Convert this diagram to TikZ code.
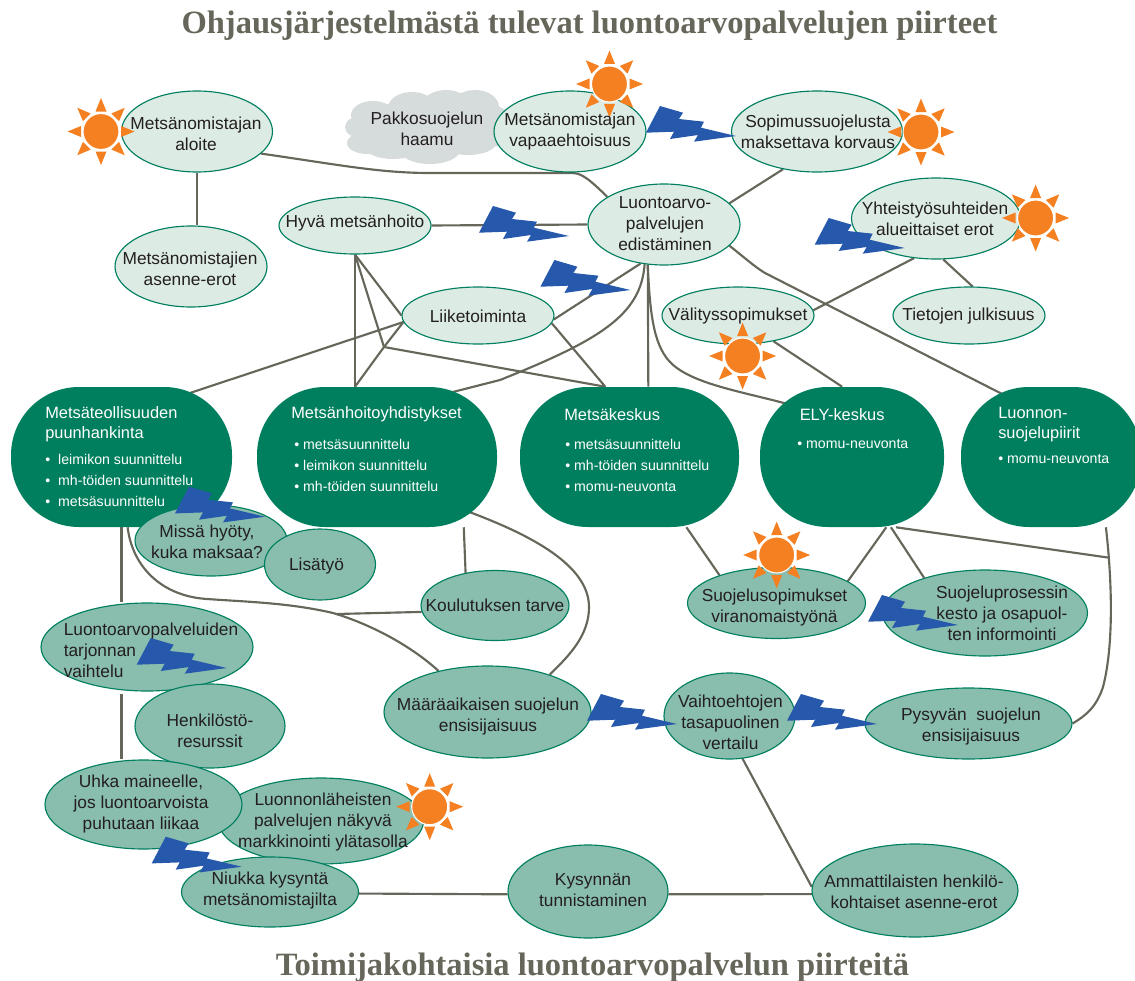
\documentclass[tikz,border=0pt]{standalone}
\usepackage{fontspec}
\setmainfont{Liberation Sans}
\newfontfamily\titlefont{Liberation Serif}
\usetikzlibrary{shapes.geometric}
\pgfdeclarelayer{bg}
\pgfsetlayers{bg,main}
\definecolor{linec}{HTML}{66665A}
\definecolor{edgec}{HTML}{007F5F}
\definecolor{lightc}{HTML}{DCEBE4}
\definecolor{midc}{HTML}{89BDAE}
\definecolor{darkc}{HTML}{007F5F}
\definecolor{sunc}{HTML}{F58022}
\definecolor{boltc}{HTML}{2659AB}
\definecolor{cloudc}{HTML}{D6DBDB}
\definecolor{textc}{HTML}{231F20}
\tikzset{
  ell/.style={ellipse,draw=edgec,line width=0.85pt,inner sep=0pt},
  lightell/.style={ell,fill=lightc},
  midell/.style={ell,fill=midc},
  lab/.style={text=textc,align=center,inner sep=0pt,font=\fontsize{13}{15.75}\selectfont},
  leftlab/.style={lab,align=left},
  gbox/.style={rectangle,rounded corners=51pt,fill=darkc,draw=none,inner sep=0pt},
  ghead/.style={text=white,align=left,anchor=west,inner sep=0pt,font=\fontsize{12.3}{15}\selectfont},
  gitem/.style={text=white,align=left,anchor=west,inner sep=0pt,font=\fontsize{10.6}{15.75}\selectfont},
  conn/.style={draw=linec,line width=1.6pt},
  ttl/.style={text=linec,inner sep=0pt,font=\titlefont\bfseries\fontsize{24.4}{28}\selectfont},
}
% name, style, cx, cy, w, h
\newcommand{\El}[6]{\node[#2,minimum width=#5*0.75pt,minimum height=#6*0.75pt] (#1) at (#3,#4) {};}
% name, x, y, style, text
\newcommand{\Tx}[5]{\node[#4] (#1) at (#2,#3) {#5};}
\newcommand{\Sunny}[2]{\begin{scope}[shift={(#1,#2)}]
  \foreach \a in {0,45,...,315}{\fill[sunc,rotate=\a] (33.5,0) -- (20,5.5) -- (20,-5.5) -- cycle;}
  \filldraw[fill=sunc,draw=white,line width=0.8pt] (0,0) circle (18);
\end{scope}}
\newcommand{\Bolt}[2]{\fill[boltc,shift={(#1,#2)}] (-76,-30) -- (-53,-23.3) -- (-57,-17) -- (-32,-14.3) -- (-35,-8.3) -- (0,0) -- (-42,5.7) -- (-38,-1) -- (-66,3) -- (-62,-4.3) -- (-90,-3.3) -- cycle;}
\begin{document}
\begin{tikzpicture}[x=0.75pt,y=-0.75pt]
\useasboundingbox (0,0) rectangle (1135,981);
% cloud
\fill[cloudc] (428,127) ellipse (70 and 28)
  (373,115) ellipse (22 and 14) (412,108) ellipse (24 and 16) (446,106) ellipse (24 and 16)
  (475,107) ellipse (24 and 17) (490,120) ellipse (20 and 15) (361,127) ellipse (16 and 11)
  (367,143) ellipse (20 and 11) (393,147) ellipse (28 and 12) (430,150) ellipse (30 and 14)
  (468,143) ellipse (28 and 12) (490,135) ellipse (20 and 12);
% dark boxes
\node[gbox,minimum width=221*0.75pt,minimum height=140*0.75pt] (mt) at (121.5,457) {};
\node[gbox,minimum width=240*0.75pt,minimum height=140*0.75pt] (mh) at (377,457) {};
\node[gbox,minimum width=219*0.75pt,minimum height=140*0.75pt] (mk) at (629.5,457) {};
\node[gbox,minimum width=184*0.75pt,minimum height=140*0.75pt] (ely) at (852,457) {};
\node[gbox,minimum width=180*0.75pt,minimum height=140*0.75pt] (ls) at (1051,457) {};
% light ellipses
\El{aloite}{lightell}{197}{131.5}{151}{81}
\El{asenne}{lightell}{191}{266.5}{152}{81}
\El{hyva}{lightell}{355}{225.5}{152}{57}
\El{liike}{lightell}{478}{315.5}{152}{57}
\El{vapaa}{lightell}{570}{131.5}{152}{81}
\El{sopimus}{lightell}{817}{131.5}{171}{81}
\El{luonto}{lightell}{664}{224.5}{152}{81}
\El{yhteis}{lightell}{936}{218.5}{169}{81}
\El{valitys}{lightell}{738}{315.5}{152}{57}
\El{tietojen}{lightell}{969}{315.5}{152}{57}
% mid ellipses
\El{missa}{midell}{211}{540.5}{152}{71}
\El{lisatyo}{midell}{320}{564.5}{111}{71}
\El{koul}{midell}{495}{605.5}{148}{70}
\El{lp}{midell}{147}{647}{212}{88}
\El{henk}{midell}{210}{726}{150}{84}
\El{luonn}{midell}{321}{821}{205}{86}
\El{uhka}{midell}{143.5}{804.5}{197}{89}
\El{niukka}{midell}{270}{892}{177}{70}
\El{maara}{midell}{487.5}{712}{207}{92}
\El{suo}{midell}{776.5}{603}{178}{71}
\El{supr}{midell}{985}{613}{205}{86}
\El{vaihto}{midell}{729.5}{716}{131}{86}
\El{pys}{midell}{968.5}{723.5}{207}{71}
\El{kys}{midell}{588}{891.5}{160}{93}
\El{amm}{midell}{915}{890.5}{206}{93}
% connector end points
\coordinate (J) at (384,347);
\coordinate (mhtop) at (mh.north -| hyva.south);
\coordinate (mtA) at (178,397);
\coordinate (mhA) at (445,394);
\coordinate (elyA) at (795,406);
\coordinate (lsA) at (1006,396);
\coordinate (mhB) at (462,509);
\coordinate (kb) at (336.7,614);
\coordinate (jr) at (1109,557.7);
\begin{pgfonlayer}{bg}
\draw[conn] (aloite.south) -- (aloite.south |- asenne.north);
\draw[conn] (aloite.-19) .. controls (340,165) and (380,173) .. (430,173) -- (572,173) .. controls (582,173) and (590,180) .. (luonto.154);
\draw[conn] (sopimus.228) -- (luonto.18);
\draw[conn] (hyva.east) -- (luonto.west);
\draw[conn] (hyva.south) -- (mhtop);
\draw[conn] (hyva.south) -- (liike.west);
\draw[conn] (hyva.south) -- (J);
\draw[conn] (J) -- (liike.185);
\draw[conn] (J) -- (mhtop);
\draw[conn] (J) -- (mk.109);
\draw[conn] (liike.185) -- (mtA);
\draw[conn] (liike.-6) -- (mk.109);
\draw[conn] (luonto.239) -- (liike.-3);
\draw[conn] (luonto.244) .. controls (641,315) and (600,340) .. (500,380) -- (mhA);
\draw[conn] (luonto.248) -- (mk.75);
\draw[conn] (luonto.248) .. controls (650,320) and (655,348) .. (672,364) .. controls (695,385) and (745,392) .. (elyA);
\draw[conn] (luonto.-18) .. controls (745,258) and (755,267) .. (765,273) -- (lsA);
\draw[conn] (yhteis.241) -- (valitys.4);
\draw[conn] (yhteis.-80) -- (tietojen.83);
\draw[conn] (valitys.-36) -- (ely.98);
\draw[conn] (mt.south) -- (mt.south |- lp.north);
\draw[conn] (mt.south |- lp.south) ++(0,2) -- (mt.south |- uhka.north);
\draw[conn] (mt.-85) .. controls (132,565) and (160,596) .. (207,599) .. controls (250,602) and (290,603) .. (333,613) .. controls (370,624) and (410,645) .. (maara.140);
\draw[conn] (koul.185) -- (kb);
\draw[conn] (mh.-39) -- (koul.132);
\draw[conn] (mhB) -- (472,513) .. controls (530,535) and (589,565) .. (589,607) .. controls (589,635) and (570,655) .. (maara.31);
\draw[conn] (mk.-51) -- (suo.154);
\draw[conn] (ely.-64) -- (suo.17);
\draw[conn] (ely.-61) -- (supr.150);
\draw[conn] (ely.-58) -- (jr);
\draw[conn] (ls.-52) .. controls (1112,580) and (1114,645) .. (1103,687) .. controls (1096,708) and (1085,716) .. (pys.east);
\draw[conn] (vaihto.-73) -- (amm.178);
\draw[conn] (niukka.-1) -- (kys.182);
\draw[conn] (kys.-2) -- (amm.182);
\end{pgfonlayer}
% suns
\Sunny{101}{131.5}
\Sunny{609.5}{84}
\Sunny{921}{132}
\Sunny{1035.6}{218}
\Sunny{742.6}{356}
\Sunny{776.7}{555}
\Sunny{429.7}{806.7}
% bolts
\Bolt{736}{136}
\Bolt{569}{236}
\Bolt{630.4}{290}
\Bolt{904.7}{248}
\Bolt{265}{516.7}
\Bolt{226.7}{668}
\Bolt{241.7}{866.7}
\Bolt{958}{625}
\Bolt{677}{724}
\Bolt{877}{724}
% texts
\Tx{t1}{196}{133.5}{lab}{Metsänomistajan\\aloite}
\Tx{t2}{190}{268.5}{lab}{Metsänomistajien\\asenne-erot}
\Tx{t3}{427}{128.5}{lab}{Pakkosuojelun\\haamu}
\Tx{t4}{355}{223.5}{lab}{Hyvä metsänhoito}
\Tx{t5}{478}{316}{lab}{Liiketoiminta}
\Tx{t6}{570}{131.5}{lab}{Metsänomistajan\\vapaaehtoisuus}
\Tx{t7}{818}{131.5}{lab}{Sopimussuojelusta\\maksettava korvaus}
\Tx{t8}{665}{224}{lab}{Luontoarvo-\\palvelujen\\edistäminen}
\Tx{t9}{935}{218.5}{lab}{Yhteistyösuhteiden\\alueittaiset erot}
\Tx{t10}{738}{316}{lab}{Välityssopimukset}
\Tx{t11}{968.5}{316}{lab}{Tietojen julkisuus}
\Tx{t12}{207}{541.5}{lab}{Missä hyöty,\\kuka maksaa?}
\Tx{t13}{316.5}{566}{lab}{Lisätyö}
\Tx{t14}{495}{605}{lab}{Koulutuksen tarve}
\Tx{t15}{151}{650}{leftlab}{Luontoarvopalveluiden\\tarjonnan\\vaihtelu}
\Tx{t16}{210}{730.5}{lab}{Henkilöstö-\\resurssit}
\Tx{t17}{141}{804}{lab}{Uhka maineelle,\\jos luontoarvoista\\puhutaan liikaa}
\Tx{t18}{323}{822}{lab}{Luonnonläheisten\\palvelujen näkyvä\\markkinointi ylätasolla}
\Tx{t19}{270}{890.5}{lab}{Niukka kysyntä\\metsänomistajilta}
\Tx{t20}{488}{717}{lab}{Määräaikaisen suojelun\\ensisijaisuus}
\Tx{t21}{774.5}{608}{lab}{Suojelusopimukset\\viranomaistyönä}
\Tx{t22}{1002}{613}{lab}{Suojeluprosessin\\kesto ja osapuol-\\ten informointi}
\Tx{t23}{730.5}{722}{lab}{Vaihtoehtojen\\tasapuolinen\\vertailu}
\Tx{t24}{971}{727}{lab}{Pysyvän\ \ suojelun\\ensisijaisuus}
\Tx{t25}{593}{890.5}{lab}{Kysynnän\\tunnistaminen}
\Tx{t26}{914}{892}{lab}{Ammattilaisten henkilö-\\kohtaiset asenne-erot}
% dark box texts
\node[ghead] (h1) at (45,424.5) {Metsäteollisuuden\\puunhankinta};
\node[gitem] (b1) at (45,480) {•\hspace{6pt}leimikon suunnittelu\\•\hspace{6pt}mh-töiden suunnittelu\\•\hspace{6pt}metsäsuunnittelu};
\node[ghead] (h2) at (291,414.5) {Metsänhoitoyhdistykset};
\node[gitem] (b2) at (294,465) {•\hspace{3pt}metsäsuunnittelu\\•\hspace{3pt}leimikon suunnittelu\\•\hspace{3pt}mh-töiden suunnittelu};
\node[ghead] (h3) at (564,414.5) {Metsäkeskus};
\node[gitem] (b3) at (565,465) {•\hspace{3pt}metsäsuunnittelu\\•\hspace{3pt}mh-töiden suunnittelu\\•\hspace{3pt}momu-neuvonta};
\node[ghead] (h4) at (799.5,414.5) {ELY-keskus};
\node[gitem] (b4) at (797,444) {•\hspace{3pt}momu-neuvonta};
\node[ghead] (h5) at (998,424.5) {Luonnon-\\suojelupiirit};
\node[gitem] (b5) at (998,459) {•\hspace{3pt}momu-neuvonta};
% titles
\node[ttl] (title1) at (589.5,26) {Ohjausjärjestelmästä tulevat luontoarvopalvelujen piirteet};
\node[ttl] (title2) at (592.5,968) {Toimijakohtaisia luontoarvopalvelun piirteitä};
\end{tikzpicture}
\end{document}
